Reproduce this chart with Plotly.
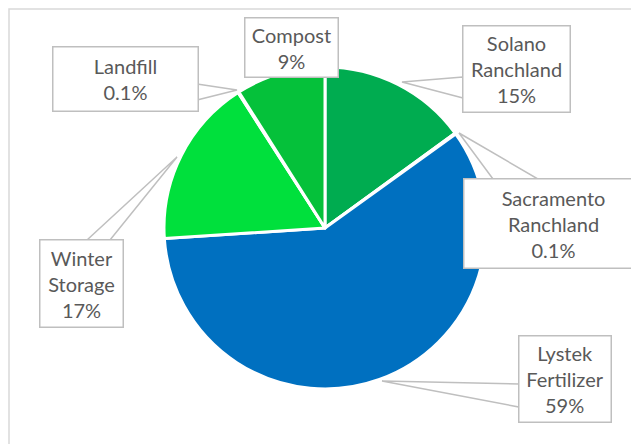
import plotly.graph_objects as go

W, H = 639, 444
OFF = 8  # page body margin in the browser

# ---- data (clockwise from 12 o'clock) ----
labels = ["Solano Ranchland", "Sacramento Ranchland", "Lystek Fertilizer",
          "Winter Storage", "Landfill", "Compost"]
values = [15, 0.1, 59, 17, 0.1, 9]
pct_labels = ["15%", "0.1%", "59%", "17%", "0.1%", "9%"]
label_lines = ["Solano<br>Ranchland", "Sacramento<br>Ranchland", "Lystek<br>Fertilizer",
               "Winter<br>Storage", "Landfill", "Compost"]
colors = ["#00AC50", "#0070C0", "#0070C0", "#00E03C", "#00E03C", "#05C13A"]


def px(x):
    return (x - OFF) / W


def py(y):
    return 1 - (y - OFF) / H


# pie placement (pixels): centre and radius
cx, cy, r = 325, 228, 161

fig = go.Figure(go.Pie(
    labels=labels, values=values, sort=False, direction="clockwise", rotation=0,
    marker=dict(colors=colors, line=dict(color="white", width=3)),
    textinfo="none", hoverinfo="label+percent", showlegend=False,
    domain=dict(x=[px(cx - r), px(cx + r)], y=[py(cy + r), py(cy - r)]),
))

# callout boxes: (centre x, centre y, width, height) in pixels
boxes = {
    "Solano Ranchland": (516, 69.5, 108, 87),
    "Sacramento Ranchland": (553, 223, 180, 90),
    "Lystek Fertilizer": (564.5, 378.5, 93, 87),
    "Winter Storage": (81, 283, 84, 88),
    "Landfill": (125, 79.5, 146, 65),
    "Compost": (291, 48, 94, 60),
}
# callout pointers: (edge point A, anchor, edge point B) in pixels
pointers = {
    "Solano Ranchland": [(463, 77), (402, 82), (463, 98)],
    "Sacramento Ranchland": [(493, 179), (459, 133), (538, 179)],
    "Lystek Fertilizer": [(519, 384), (382, 381), (519, 407)],
    "Winter Storage": [(87, 240), (177, 157), (110, 240)],
    "Landfill": [(197, 84), (237, 90), (197, 100)],
}

GRAY = "#BFBFBF"
shapes = [dict(type="rect", xref="paper", yref="paper",
               x0=px(OFF + 1), x1=1.1, y0=-0.1, y1=py(OFF + 1),
               line=dict(color="#D9D9D9", width=1.5), fillcolor="rgba(0,0,0,0)",
               layer="below")]
for name, pts in pointers.items():
    (ax, ay), (bx, by), (dx, dy) = pts
    path = f"M {px(ax)},{py(ay)} L {px(bx)},{py(by)} L {px(dx)},{py(dy)} Z"
    shapes.append(dict(type="path", xref="paper", yref="paper", path=path,
                       line=dict(color=GRAY, width=1.5), fillcolor="white"))

annotations = []
for name, lines, pct in zip(labels, label_lines, pct_labels):
    bx, by, bw, bh = boxes[name]
    annotations.append(dict(
        xref="paper", yref="paper", x=px(bx), y=py(by),
        xanchor="center", yanchor="middle", showarrow=False,
        text=f"{lines}<br>{pct}", align="center", valign="middle",
        width=bw - 2, height=bh - 2, borderpad=0,
        bgcolor="white", bordercolor=GRAY, borderwidth=1.5,
        font=dict(family="Lato", size=20, color="#595959"),
    ))

fig.update_layout(
    width=W, height=H, margin=dict(l=0, r=0, t=0, b=0),
    paper_bgcolor="white", plot_bgcolor="white",
    shapes=shapes, annotations=annotations,
)

fig.write_html("out.html")
